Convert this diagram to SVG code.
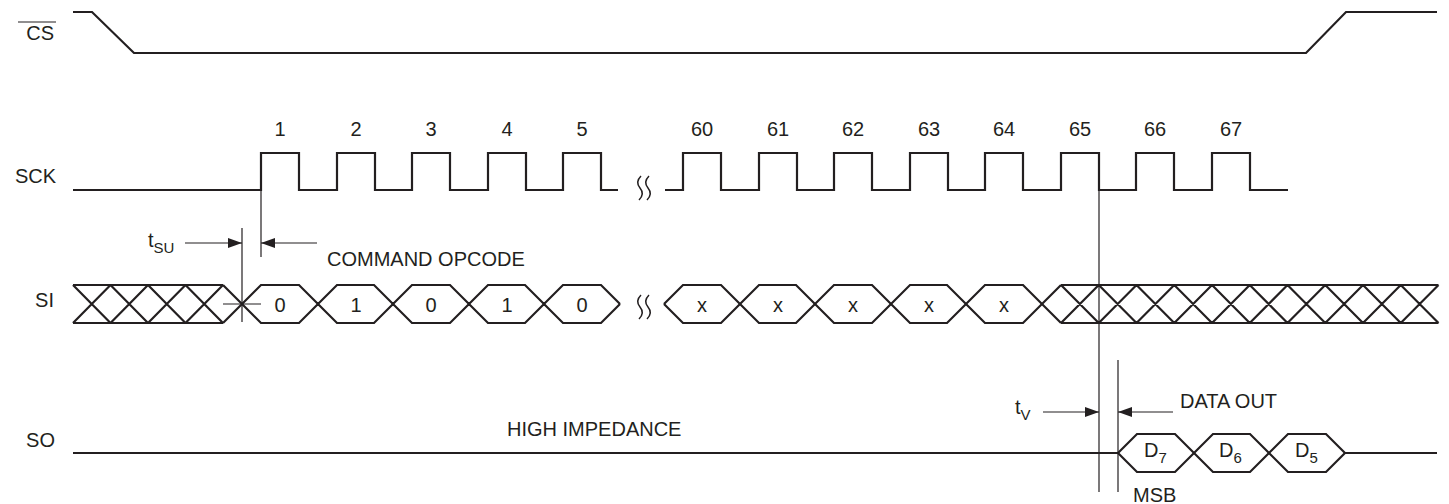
<svg xmlns="http://www.w3.org/2000/svg" width="1449" height="504" viewBox="0 0 1449 504">
<defs>
<style>
.w{fill:none;stroke:#231f20;stroke-width:2.2;stroke-linejoin:miter}
.t{fill:none;stroke:#231f20;stroke-width:1.2}
.sq{fill:none;stroke:#231f20;stroke-width:1.5}
text{font-family:"Liberation Sans",Arial,sans-serif;font-size:20px;fill:#231f20}
.c{text-anchor:middle}
.e{text-anchor:end}
.sub{font-size:15px}
</style>
<marker id="ah" viewBox="0 0 14 10" refX="14" refY="5" markerWidth="14" markerHeight="10" markerUnits="userSpaceOnUse" orient="auto">
<path d="M0,0 L14,5 L0,10 Z" fill="#231f20"/>
</marker>
</defs>
<rect width="1449" height="504" fill="#fff"/>

<g id="cs">
<text x="54" y="40" class="e">CS</text>
<line x1="18" y1="22" x2="56" y2="22" class="t"/>
<path class="w" d="M73,12 H92 L134,53 H1306 L1346,12 H1437"/>
</g>

<g id="sck">
<text x="56" y="183" class="e">SCK</text>
<path class="w" d="M73,190 H261 V153 H299 V190 H337 V153 H375 V190 H412 V153 H450 V190 H488 V153 H526 V190 H563 V153 H601 V190 H618"/>
<path class="w" d="M665,190 H683 V153 H721 V190 H759 V153 H797 V190 H834 V153 H872 V190 H910 V153 H948 V190 H985 V153 H1023 V190 H1061 V153 H1099 V190 H1136 V153 H1174 V190 H1212 V153 H1250 V190 H1288"/>
<path class="sq" d="M641,176 Q635,182 640,188 Q645,194 639,200 M649,176 Q643,182 648,188 Q653,194 647,200"/>
<text x="280" y="136" class="c">1</text>
<text x="356" y="136" class="c">2</text>
<text x="431" y="136" class="c">3</text>
<text x="507" y="136" class="c">4</text>
<text x="582" y="136" class="c">5</text>
<text x="702" y="136" class="c">60</text>
<text x="778" y="136" class="c">61</text>
<text x="853" y="136" class="c">62</text>
<text x="929" y="136" class="c">63</text>
<text x="1004" y="136" class="c">64</text>
<text x="1080" y="136" class="c">65</text>
<text x="1155" y="136" class="c">66</text>
<text x="1231" y="136" class="c">67</text>
</g>

<g id="si">
<text x="54" y="307" class="e">SI</text>
<path class="w" d="M73,285 H223 M73,323 H223 M73,285 L110.5,323 M110.5,285 L148,323 M148,285 L185.5,323 M185.5,285 L223,323 M223,285 L242,304 M73,323 L110.5,285 M110.5,323 L148,285 M148,323 L185.5,285 M185.5,323 L223,285 M223,323 L242,304"/>
<path class="w" d="M242,304 L261,285 H299 L318,304 L337,285 H374 L393,304 L412,285 H450 L469,304 L488,285 H525 L544,304 L563,285 H601 L620,304"/>
<path class="w" d="M242,304 L261,323 H299 L318,304 L337,323 H374 L393,304 L412,323 H450 L469,304 L488,323 H525 L544,304 L563,323 H601 L620,304"/>
<path class="w" d="M664,304 L683,285 H721 L740,304 L759,285 H796 L815,304 L834,285 H872 L891,304 L910,285 H947 L966,304 L985,285 H1023 L1061,323"/>
<path class="w" d="M664,304 L683,323 H721 L740,304 L759,323 H796 L815,304 L834,323 H872 L891,304 L910,323 H947 L966,304 L985,323 H1023 L1061,285"/>
<path class="w" d="M1061,285 H1438.5 M1061,323 H1438.5 M1061,285 L1098.75,323 M1098.75,285 L1136.5,323 M1136.5,285 L1174.25,323 M1174.25,285 L1212,323 M1212,285 L1249.75,323 M1249.75,285 L1287.5,323 M1287.5,285 L1325.25,323 M1325.25,285 L1363,323 M1363,285 L1400.75,323 M1400.75,285 L1438.5,323 M1061,323 L1098.75,285 M1098.75,323 L1136.5,285 M1136.5,323 L1174.25,285 M1174.25,323 L1212,285 M1212,323 L1249.75,285 M1249.75,323 L1287.5,285 M1287.5,323 L1325.25,285 M1325.25,323 L1363,285 M1363,323 L1400.75,285 M1400.75,323 L1438.5,285"/>
<path class="sq" d="M641,295 Q635,301 640,307 Q645,313 639,319 M649,295 Q643,301 648,307 Q653,313 647,319"/>
<text x="280" y="312" class="c">0</text>
<text x="356" y="312" class="c">1</text>
<text x="431" y="312" class="c">0</text>
<text x="507" y="312" class="c">1</text>
<text x="582" y="312" class="c">0</text>
<text x="702" y="312" class="c">x</text>
<text x="778" y="312" class="c">x</text>
<text x="853" y="312" class="c">x</text>
<text x="929" y="312" class="c">x</text>
<text x="1004" y="312" class="c">x</text>
</g>

<g id="so">
<text x="55" y="447" class="e">SO</text>
<path class="w" d="M73,453 H1118 M1345,453 H1437"/>
<path class="w" d="M1118,453 L1137,434 H1175 L1194,453 L1213,434 H1250 L1269,453 L1288,434 H1326 L1345,453"/>
<path class="w" d="M1118,453 L1137,472 H1175 L1194,453 L1213,472 H1250 L1269,453 L1288,472 H1326 L1345,453"/>
<text x="507" y="436">HIGH IMPEDANCE</text>
<text x="1144" y="457">D<tspan class="sub" dy="6">7</tspan></text>
<text x="1219" y="457">D<tspan class="sub" dy="6">6</tspan></text>
<text x="1295" y="457">D<tspan class="sub" dy="6">5</tspan></text>
</g>

<g id="connectors">
<line class="t" x1="261" y1="190" x2="261" y2="257"/>
<line class="t" x1="242" y1="228" x2="242" y2="322"/>
<line class="t" x1="223" y1="304" x2="261" y2="304"/>
<line class="t" x1="185" y1="243" x2="242" y2="243" marker-end="url(#ah)"/>
<line class="t" x1="317" y1="243" x2="261" y2="243" marker-end="url(#ah)"/>
<line class="t" x1="1099" y1="190" x2="1099" y2="492"/>
<line class="t" x1="1118" y1="360" x2="1118" y2="492"/>
<line class="t" x1="1043" y1="412" x2="1099" y2="412" marker-end="url(#ah)"/>
<line class="t" x1="1173" y1="412" x2="1118" y2="412" marker-end="url(#ah)"/>
</g>

<g id="labels">
<text x="148" y="247">t<tspan class="sub" dy="6">SU</tspan></text>
<text x="327" y="266">COMMAND OPCODE</text>
<text x="1015" y="414">t<tspan class="sub" dy="6">V</tspan></text>
<text x="1180" y="408">DATA OUT</text>
<text x="1133" y="502">MSB</text>
</g>
</svg>
